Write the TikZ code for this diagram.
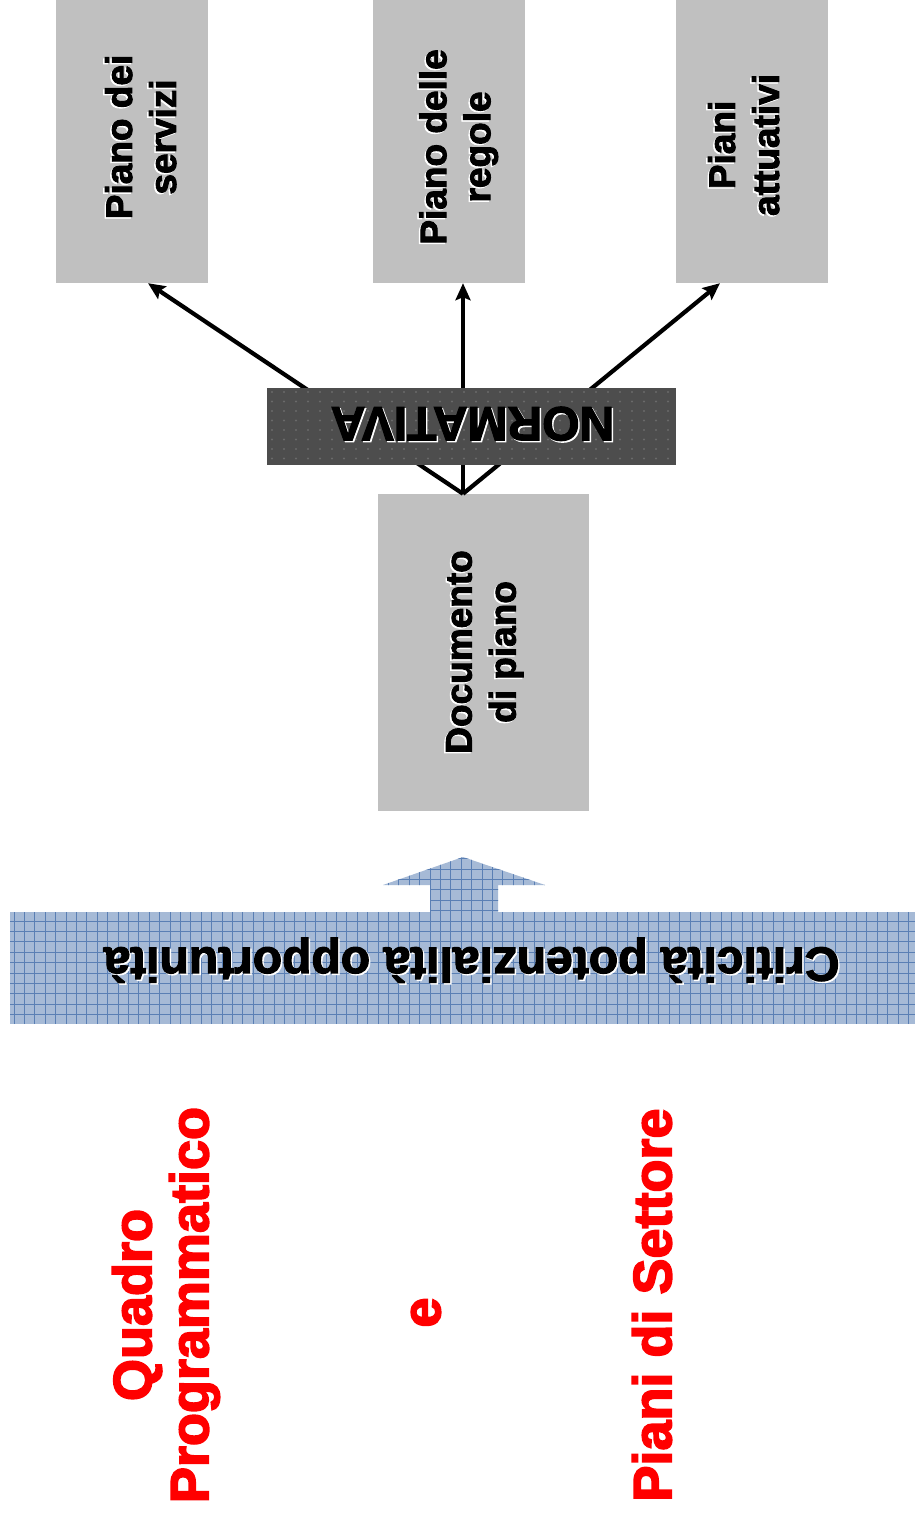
\documentclass[tikz,border=0pt]{standalone}
\usepackage{fontspec}
\setmainfont{Liberation Sans}[BoldFeatures={FakeBold=2.5}]
\newfontfamily\redfont{Liberation Sans}[BoldFeatures={FakeBold=3}]
\usetikzlibrary{arrows.meta,calc}
\definecolor{boxgray}{HTML}{C0C0C0}
\definecolor{normgray}{HTML}{4D4D4D}
\definecolor{dotgray}{HTML}{6A6A6A}
\definecolor{bandblue}{HTML}{A6BAD6}
\definecolor{gridblue}{HTML}{5A7FB4}
\definecolor{redtxt}{HTML}{FF0000}
% shadowed text: white copy offset behind black text
\newcommand\shtxt[1]{\rlap{\hspace{-1.5pt}\raisebox{1.5pt}{\color{white}#1}}#1}
\tikzset{
  graybox/.style={fill=boxgray, draw=none, inner sep=0pt, minimum width=152pt, minimum height=283pt},
  boxtext/.style={rotate=90, inner sep=0pt, align=center, text=black,
    font=\fontsize{37}{44}\selectfont\bfseries},
  conn/.style={draw=black, line width=4.2pt, -{Stealth[length=17pt,width=15pt,inset=3pt]}},
  normbox/.style={fill=normgray, draw=none, inner sep=0pt, minimum width=409pt, minimum height=77pt},
  fliptext/.style={rotate=180, inner sep=0pt, text=black},
  redtext/.style={rotate=90, inner sep=0pt, align=center, text=redtxt,
    font=\redfont\fontsize{54}{57}\selectfont\bfseries},
  gridline/.style={draw=gridblue, line width=0.8pt},
}
\begin{document}
\begin{tikzpicture}[x=1pt,y=-1pt]
\useasboundingbox (0,0) rectangle (915,1517);
\fill[white] (0,0) rectangle (915,1517);

% top boxes
\node[graybox] (servizi) at (132,141.5) {};
\node[graybox] (regole) at (449,141.5) {};
\node[graybox] (attuativi) at (752,141.5) {};
\node[boxtext] (servizit) at (140,137) {\shtxt{Piano dei}\\\shtxt{servizi}};
\node[boxtext] (regolet) at (458,147) {\shtxt{Piano delle}\\\shtxt{regole}};
\node[boxtext] (attuativit) at (743,145) {\shtxt{Piani}\\\shtxt{attuativi}};

% documento di piano
\node[graybox, minimum width=211pt, minimum height=317pt] (doc) at (483.5,652.5) {};
\node[boxtext] (doct) at (484,652) {\shtxt{Documento}\\\shtxt{di piano}};

% connectors (behind NORMATIVA)
\coordinate (src) at ($(doc.north)+(-20.5,0)$);
\draw[conn] (src) -- ($(servizi.south)+(16,0)$);
\draw[conn] (src) -- ($(regole.south)+(14,0)$);
\draw[conn] (src) -- ($(attuativi.south)+(-32,0)$);

% NORMATIVA
\node[normbox] (norm) at (471.5,426.5) {};
\begin{scope}
  \clip (267,388) rectangle (676,465);
  \foreach \i in {0,...,34} {
    \foreach \j in {0,...,8} {
      \fill[dotgray] ({272+12*\i},{392+9.5*\j}) circle (1.1pt);
    }
  }
\end{scope}
\node[fliptext, font=\fontsize{48}{50}\selectfont\bfseries] (normt) at (472.5,424.5) {\shtxt{NORMATIVA}};

% big arrow
\begin{scope}
  \clip (430,914) -- (430,885) -- (383,885) -- (463,857) -- (545,885) -- (498,885) -- (498,914) -- cycle;
  \fill[bandblue] (370,850) rectangle (560,920);
  \foreach \i in {36,...,53} \draw[gridline] ({3.6+10.4*\i},850) -- ({3.6+10.4*\i},920);
  \foreach \j in {81,...,88} \draw[gridline] (370,{5.8+10.4*\j}) -- (560,{5.8+10.4*\j});
\end{scope}

% band
\begin{scope}
  \clip (10,912) rectangle (915,1023);
  \fill[bandblue] (0,900) rectangle (915,1030);
  \foreach \i in {0,...,88} \draw[gridline] ({3.6+10.4*\i},900) -- ({3.6+10.4*\i},1030);
  \foreach \j in {86,...,98} \draw[gridline] (0,{5.8+10.4*\j}) -- (915,{5.8+10.4*\j});
\end{scope}
\node[fliptext, font=\fontsize{48}{52}\selectfont\bfseries] (crit) at (471.5,961) {\shtxt{Criticità potenzialità opportunità}};

% red labels
\node[redtext] (quadro) at (166,1305) {Quadro\\Programmatico};
\node[redtext] (e) at (426,1312.5) {e};
\node[redtext] (settore) at (652,1305) {Piani di Settore};
\end{tikzpicture}
\end{document}
